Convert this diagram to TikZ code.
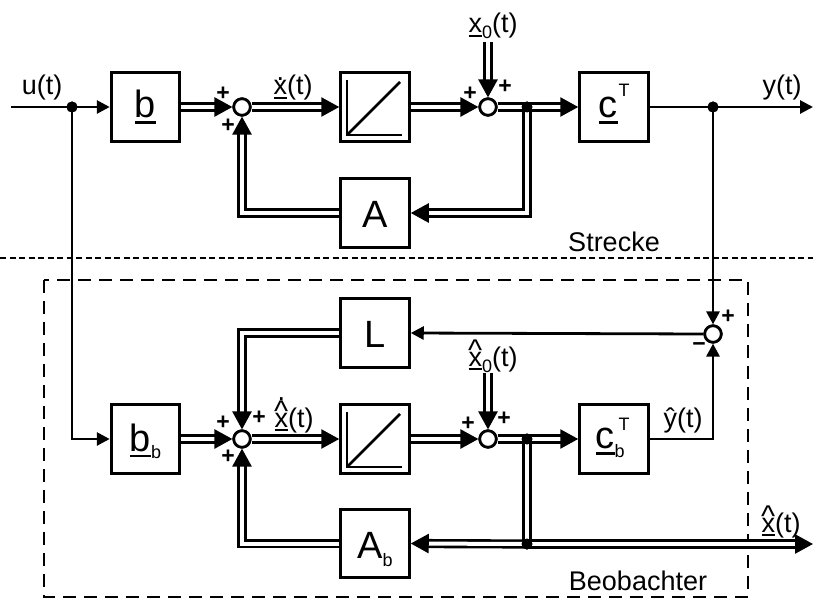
\documentclass[tikz,border=0pt]{standalone}
\usepackage{fontspec}
\setmainfont{Liberation Sans}
\usetikzlibrary{arrows.meta}
\newsavebox\ulbox
\newcommand\vecu[3]{\sbox\ulbox{#3}\rlap{\rule[-#1]{\wd\ulbox}{#2}}\usebox\ulbox}
\newcommand\xhat{\ooalign{x\cr\hidewidth\raisebox{0.2em}{\fontsize{30}{30}\selectfont\textasciicircum}\hidewidth\cr}}
\newcommand\xdot{\ooalign{x\cr\hidewidth\raisebox{0.55em}{.}\hidewidth\cr}}
\newcommand\xhatdot{\ooalign{x\cr\hidewidth\raisebox{0.2em}{\fontsize{30}{30}\selectfont\textasciicircum}\hidewidth\cr\hidewidth\raisebox{0.97em}{.}\hidewidth\cr}}
\newcommand\scr[2]{\raisebox{#1}{\fontsize{18}{18}\selectfont #2}}
\tikzset{
  blk/.style={draw, line width=3pt, minimum width=68.5pt, minimum height=68.5pt, inner sep=0pt, text depth=0pt, font=\fontsize{38}{38}\selectfont},
  sum/.style={circle, draw, line width=2.7pt, fill=white, minimum size=16.5pt, inner sep=0pt},
  dot/.style={circle, fill, minimum size=11pt, inner sep=0pt},
  lab/.style={inner sep=0pt, anchor=base, font=\fontsize{27}{27}\selectfont},
  pm/.style={inner sep=0pt, font=\fontsize{23}{23}\selectfont\bfseries},
  sig/.style={line width=2.8pt},
  sigar/.style={line width=2.8pt, -{Triangle[length=13pt,width=13pt]}},
  dbl/.style={line width=2.6pt, double=white, double distance=4pt},
  dblar/.style={dbl, -{Triangle[length=18pt,width=19pt]}},
  integ/.style={line width=2.7pt}
}
\begin{document}
\begin{tikzpicture}[x=1pt,y=-1pt]
\useasboundingbox (0,0) rectangle (813,599);
% ---------- plant (Strecke) ----------
\node[blk, text height=21pt] (b) at (145.5,107) {\vecu{6pt}{2.4pt}{b}};
\node[sum] (s1) at (242,107) {};
\node[blk] (i1) at (375,107) {};
\node[sum] (s2) at (488,107) {};
\node[blk, text height=21pt] (cT) at (614,107) {\vecu{6pt}{2.4pt}{c}\kern1pt\scr{21pt}{T}};
\node[blk, text height=29pt] (A) at (375,213) {A};
\coordinate (uin) at (11,107);
\coordinate (yout) at (813,107);
\coordinate (x0in) at (488,42);
\node[dot] (ju) at (72,107) {};
\node[dot] (j2) at (527,107) {};
\node[dot] (jy) at (713,107) {};
% ---------- observer (Beobachter) ----------
\node[blk, text height=29pt] (L) at (375,333) {L};
\node[blk, text height=24pt] (bb) at (145.5,439) {\vecu{6pt}{2.4pt}{b}\scr{-7pt}{b}};
\node[sum] (s3) at (242,439) {};
\node[blk] (i2) at (375,439) {};
\node[sum] (s5) at (488,439) {};
\node[blk, text height=19pt] (cbT) at (614,439) {\vecu{6pt}{2.4pt}{c}\rlap{\scr{-9pt}{b}}\kern4pt\scr{18pt}{T}\kern3pt};
\node[blk, text height=29pt] (Ab) at (375,543.5) {A\scr{-8pt}{b}};
\node[sum] (s4) at (713,334) {};
\coordinate (xh0in) at (488,373);
\coordinate (xout) at (813,544);
\node[dot] (j5) at (527,439) {};
\node[dot] (j6) at (527,544) {};
% ---------- separators ----------
\draw[line width=2.6pt, dash pattern=on 6pt off 3.5pt] (0,258) -- (813,258);
\draw[line width=2.6pt, dash pattern=on 13pt off 8pt] (44,280) rectangle (748,597);
% ---------- integrator symbols ----------
\foreach \n in {i1,i2}{
  \draw[integ] ([shift={(-28,-27)}]\n.center) |- ([shift={(27,28)}]\n.center);
  \draw[integ] ([shift={(-28,28)}]\n.center) -- ([shift={(25,-25)}]\n.center);
}
% ---------- plant connections ----------
\draw[sigar] (uin) -- (b.west);
\draw[dblar] (b.east) -- (s1.west);
\draw[dblar] (s1.east) -- (i1.west);
\draw[dblar] (i1.east) -- (s2.west);
\draw[dblar] (x0in) -- (s2.north);
\draw[dblar] (s2.east) -- (cT.west);
\draw[dblar] (j2.center) |- (A.east);
\draw[dblar] (A.west) -| (s1.south);
\draw[sigar] (cT.east) -- (yout);
\draw[sigar] (jy.center) -- (s4.north);
% ---------- observer connections ----------
\draw[sigar] (ju.center) |- (bb.west);
\draw[dblar] (bb.east) -- (s3.west);
\draw[dblar] (s3.east) -- (i2.west);
\draw[dblar] (i2.east) -- (s5.west);
\draw[dblar] (xh0in) -- (s5.north);
\draw[dblar] (s5.east) -- (cbT.west);
\draw[dbl] (j5.center) -- (j6.center);
\draw[dblar] (j6.center) -- (Ab.east);
\draw[dblar] (j6.center) -- (xout);
\draw[dblar] (Ab.west) -| (s3.south);
\draw[dblar] (L.west) -| (s3.north);
\draw[sigar] (s4.west) -- (L.east);
\draw[sigar] (cbT.east) -| (s4.south);
% redraw dots and sums on top
\foreach \d in {ju,j2,jy,j5,j6}{\fill (\d) circle (5.5pt);}
\foreach \s in {s1,s2,s3,s4,s5}{\draw[line width=2.7pt, fill=white] (\s) circle (8.25pt);}
% ---------- signs ----------
\node[pm] at (223,94) {+};
\node[pm] at (228,126) {+};
\node[pm] at (470,94) {+};
\node[pm] at (505,87) {+};
\node[pm] at (223,423) {+};
\node[pm] at (228,457) {+};
\node[pm] at (259,418) {+};
\node[pm] at (468,424) {+};
\node[pm] at (504,419) {+};
\node[pm] at (728,317) {+};
\node[pm] at (699,347) {−};
% ---------- labels ----------
\node[lab] (lu) at (42,95) {u(t)};
\node[lab] (lxd) at (293,95) {\vecu{4pt}{1.9pt}{\xdot}(t)};
\node[lab] (lx0) at (493,33) {\vecu{4pt}{1.9pt}{x}\scr{-6pt}{0}(t)};
\node[lab] (ly) at (782,95) {y(t)};
\node[lab] (lxhd) at (294,427) {\vecu{4pt}{1.9pt}{\xhatdot}(t)};
\node[lab] (lxh0) at (493,366) {\vecu{4pt}{1.9pt}{\xhat}\scr{-6pt}{0}(t)};
\node[lab] (lyh) at (683,427) {ŷ(t)};
\node[lab] (lxh) at (781,532) {\vecu{4pt}{1.9pt}{\xhat}(t)};
\node[lab] (str) at (614,251) {Strecke};
\node[lab] (beo) at (638,590) {Beobachter};
\end{tikzpicture}
\end{document}
